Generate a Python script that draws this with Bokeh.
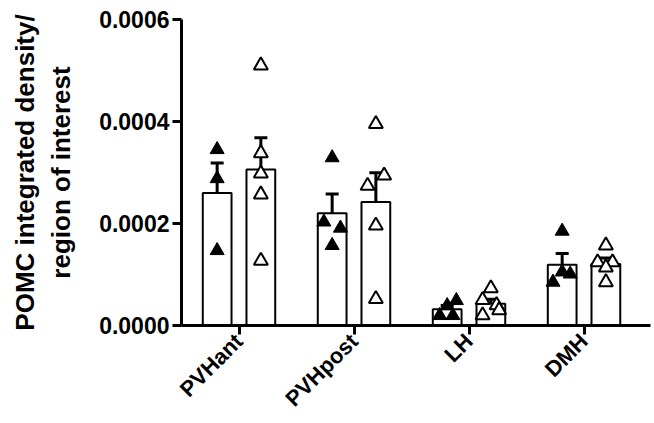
import numpy as np
from math import pi
from bokeh.plotting import figure
from bokeh.models import Range1d, FixedTicker, PrintfTickFormatter, ColumnDataSource, Whisker, TeeHead
from bokeh.embed import file_html
from bokeh.resources import INLINE

regions = ["PVHant", "PVHpost", "LH", "DMH"]

# group 1 (filled triangles)
g1_values = [
    [0.000345, 0.000288, 0.000147],
    [0.000329, 0.000203, 0.000191, 0.000157],
    [0.000049, 0.000039, 0.0000196, 0.0000196],
    [0.000185, 0.000105, 0.000101, 0.000085],
]
g1_jitter = [
    [0.0, 0.0, 0.0],
    [0.0, -0.072, 0.072, 0.0],
    [0.08, 0.0, -0.065, 0.05],
    [0.0, 0.0, 0.07, -0.08],
]

# group 2 (open triangles)
g2_values = [
    [0.00051, 0.000338, 0.000298, 0.000257, 0.000127],
    [0.000395, 0.000294, 0.000274, 0.000196, 0.000052],
    [0.000073, 0.000050, 0.000040, 0.000030, 0.000020],
    [0.000157, 0.000124, 0.000124, 0.000114, 0.000085],
]
g2_jitter = [
    [0.0, 0.0, 0.0, 0.0, 0.0],
    [0.0, 0.072, -0.072, 0.0, 0.0],
    [0.0, -0.072, 0.05, 0.072, -0.072],
    [0.0, -0.072, 0.058, 0.0, 0.0],
]

y_ticks = [0.0, 0.0002, 0.0004, 0.0006]

OFFSET = 0.19
BAR_W = 0.25
FONT = "Liberation Sans"

p = figure(width=652, height=423, output_backend="svg", toolbar_location=None,
           x_range=Range1d(-0.5, 3.578), y_range=Range1d(0, 0.0006),
           min_border_left=181, min_border_right=2, min_border_top=19, min_border_bottom=98)
p.outline_line_color = None
p.grid.visible = False
p.background_fill_color = "white"
p.border_fill_color = "white"

def stats(vals):
    a = np.array(vals)
    return a.mean(), a.std(ddof=1) / np.sqrt(len(a))

cats = np.arange(len(regions))
for vals_list, jit_list, off, fill in [(g1_values, g1_jitter, -OFFSET, "black"),
                                        (g2_values, g2_jitter, OFFSET, "white")]:
    means, sems = zip(*[stats(v) for v in vals_list])
    xs = cats + off
    p.vbar(x=xs, top=list(means), width=BAR_W, bottom=0, fill_color="white",
           line_color="black", line_width=2)
    px, py = [], []
    for c, vals, jit in zip(cats, vals_list, jit_list):
        for v, j in zip(vals, jit):
            px.append(c + off + j)
            py.append(v)
    p.scatter(px, py, marker="triangle", size=14, fill_color=fill,
              line_color="black", line_width=2 if fill == "white" else 1)
    src = ColumnDataSource(dict(base=list(xs),
                                upper=[m + s for m, s in zip(means, sems)],
                                lower=[m - s for m, s in zip(means, sems)]))
    w = Whisker(source=src, base="base", upper="upper", lower="lower",
                line_color="black", line_width=3,
                upper_head=TeeHead(size=13, line_width=3, line_color="black"),
                lower_head=TeeHead(size=13, line_width=3, line_color="black"))
    p.add_layout(w)

# axes
p.xaxis.ticker = FixedTicker(ticks=list(range(len(regions))))
p.xaxis.major_label_overrides = {i: r for i, r in enumerate(regions)}
p.xaxis.major_label_orientation = pi / 4
p.yaxis.ticker = FixedTicker(ticks=y_ticks)
p.yaxis.formatter = PrintfTickFormatter(format="%.4f")
p.yaxis.axis_label = "POMC integrated density/\nregion of interest"

for ax in (p.xaxis, p.yaxis):
    ax.axis_line_width = 3
    ax.axis_line_color = "black"
    ax.major_tick_line_width = 3
    ax.major_tick_line_color = "black"
    ax.major_tick_out = 9
    ax.major_tick_in = 0
    ax.minor_tick_line_color = None
    ax.major_label_text_font = FONT
    ax.major_label_text_font_style = "bold"
    ax.major_label_text_color = "black"
    ax.axis_label_text_font = FONT
    ax.axis_label_text_font_style = "bold"
    ax.axis_label_text_color = "black"

p.yaxis.major_label_text_font_size = "23px"
p.yaxis.major_label_standoff = 3
p.yaxis.axis_label_text_font_size = "26px"
p.yaxis.axis_label_standoff = 20
p.xaxis.major_label_text_font_size = "22px"
p.xaxis.major_label_standoff = 3

open("out.html", "w").write(file_html(p, INLINE))
